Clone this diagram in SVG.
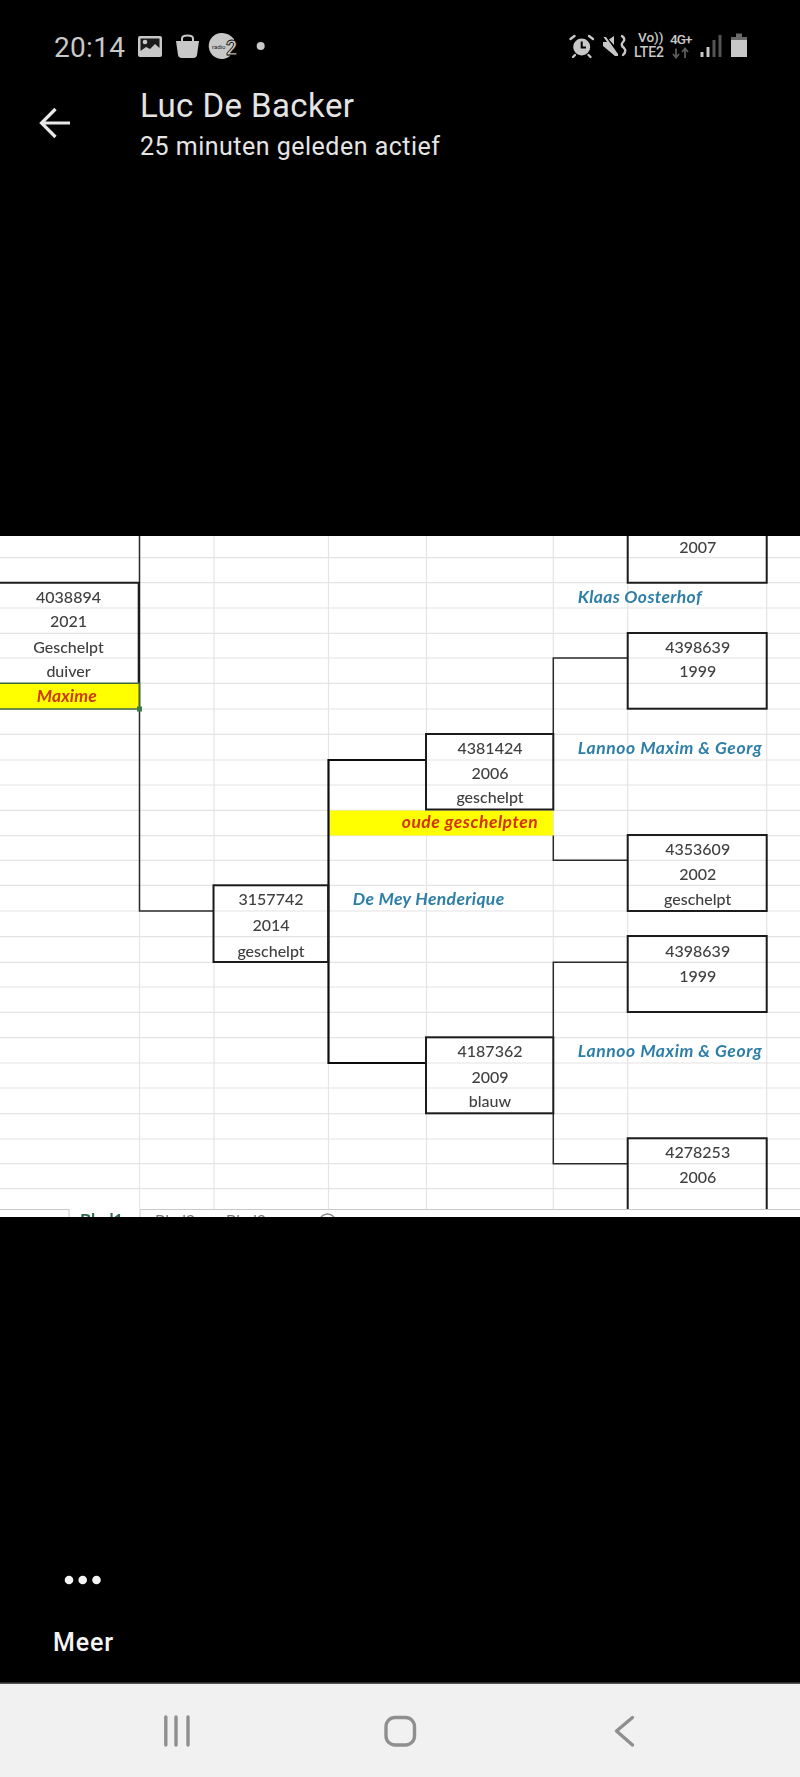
<svg xmlns="http://www.w3.org/2000/svg" width="800" height="1777" viewBox="0 0 800 1777">
<defs>
<style>
.st{font-family:"Roboto","Liberation Sans",sans-serif}
.c{font-family:"Lato","Noto Sans",sans-serif;font-size:16px;font-weight:500;fill:#404040;text-anchor:middle}
.n{font-family:"Lato","Noto Sans",sans-serif;font-size:17.5px;font-weight:700;font-style:italic;fill:#2f7fa8}
.r{font-family:"Lato","Noto Sans",sans-serif;font-size:17.5px;font-weight:700;font-style:italic;fill:#d4300c}
.tab{font-family:"Lato","Noto Sans",sans-serif;font-size:16px;fill:#777}
.box{fill:none;stroke:#1c1c1c;stroke-width:2}
.con{fill:none;stroke:#2a2a2a;stroke-width:1.5}
.con2{fill:none;stroke:#111;stroke-width:2.2}
.grid{stroke:#e4e4e4;stroke-width:1.2;fill:none}
.ic{fill:#c8c8c8}
.icl{fill:none;stroke:#c8c8c8;stroke-width:2.4;stroke-linecap:round;stroke-linejoin:round}
.nav{fill:none;stroke:#8f8f8f;stroke-width:3.4;stroke-linecap:round;stroke-linejoin:round}
</style>
<clipPath id="sheetclip"><rect x="0" y="536" width="800" height="681"/></clipPath>
<filter id="soft" x="0" y="0" width="100%" height="100%"><feGaussianBlur stdDeviation="0.35"/></filter>
</defs>
<rect x="0" y="0" width="800" height="1777" fill="#000"/>

<g id="statusbar">
<text class="st" x="54" y="56.7" font-size="28" fill="#c8c8c8" textLength="71">20:14</text>
<g id="icon-image"><rect class="ic" x="138" y="36" width="24" height="21" rx="2"/><path d="M140.500 38.500 H159.500 V48 L155 44 L150 49 L146 47 L140.500 51Z" fill="#1c1c1c"/><circle cx="145" cy="42" r="2.300" fill="#c8c8c8"/></g>
<g id="icon-bag"><path class="ic" d="M176 41 H199 L197 55 Q196.500 58 193 58 H182 Q178.500 58 178 55Z"/><path d="M182 41 V38.500 Q182 35.500 187.500 35.500 Q193 35.500 193 38.500 V41" fill="none" stroke="#c8c8c8" stroke-width="2"/></g>
<g id="icon-radio"><path class="ic" d="M222 33 A13 13 0 1 0 230 56 L233 48 L234 39 Q229 33 222 33Z"/><text x="212" y="48.500" font-family="Roboto,sans-serif" font-size="6" fill="#222">radio</text><text x="226" y="55" font-family="Roboto,sans-serif" font-size="20" font-weight="700" fill="#c8c8c8" stroke="#000" stroke-width=".8">2</text></g>
<circle id="icon-dot" class="ic" cx="260.700" cy="46" r="4"/>
<g id="icon-alarm"><circle cx="581.700" cy="47" r="8.500" fill="#c8c8c8"/><path d="M581.700 41.500 V47.500 H586" fill="none" stroke="#000" stroke-width="2"/><path class="icl" d="M570.500 39 L574.500 36 M593 39 L589 36 M575 55 L573 57 M588.500 55 L590.500 57"/></g>
<g id="icon-mute"><path class="ic" d="M603 42 H607 L603.500 37 H606 L618 54 V56 H615 L603 46Z"/><path class="ic" d="M609 39.500 L614 36 V45Z"/><path class="icl" d="M622 36 Q626 39 623 42 Q620 45 624 48 Q627 51 623 55"/></g>
<text class="st" x="638" y="41.700" font-size="13.500" font-weight="500" fill="#c8c8c8">Vo))</text>
<text class="st" x="634" y="56.700" font-size="14" font-weight="500" fill="#c8c8c8" textLength="30">LTE2</text>
<text class="st" x="670" y="44" font-size="13.500" font-weight="500" fill="#c8c8c8" textLength="22.500">4G+</text>
<g id="icon-data"><path d="M676 48.500 V57 M673 54 L676 57.500 L679 54" fill="none" stroke="#5c5c5c" stroke-width="1.800"/><path d="M685 58 V49 M682 52 L685 48.500 L688 52" fill="none" stroke="#5c5c5c" stroke-width="1.800"/></g>
<g id="icon-signal"><rect class="ic" x="700.500" y="52" width="3" height="5"/><rect class="ic" x="706.500" y="47" width="3" height="10"/><rect x="712.500" y="40" width="3" height="17" fill="#555"/><rect x="718.500" y="35" width="3" height="22" fill="#555"/></g>
<g id="icon-battery"><rect x="736" y="33.500" width="6" height="5" fill="#6a6a6a"/><rect x="731" y="37" width="16" height="4" fill="#6a6a6a"/><rect class="ic" x="731" y="40" width="16" height="17"/></g>
</g>

<g id="header">
<path id="back-arrow" d="M70 123 H43 M55.500 109 L41.500 123 L55.500 137" fill="none" stroke="#e8e8e8" stroke-width="3.200"/>
<text class="st" x="140" y="117.300" font-size="33" fill="#e4e4e4" textLength="214">Luc De Backer</text>
<text class="st" x="140" y="155" font-size="25" fill="#e4e4e4" textLength="300">25 minuten geleden actief</text>
</g>

<g id="sheet" clip-path="url(#sheetclip)">
<g filter="url(#soft)">
<rect x="0" y="536" width="800" height="681" fill="#fff"/>
<path id="gridlines" class="grid" d="M0 557.700H800M0 582.700H800M0 608H800M0 633.300H800M0 658H800M0 683.300H800M0 709H800M0 734.300H800M0 760H800M0 785H800M0 810.300H800M0 835.700H800M0 860.300H800M0 885.300H800M0 911H800M0 936.700H800M0 962.300H800M0 987H800M0 1012.300H800M0 1037.700H800M0 1063H800M0 1088H800M0 1113.700H800M0 1139H800M0 1163.700H800M0 1188.700H800M139.500 536V1209M214 536V1209M328.500 536V1209M426.500 536V1209M553.300 536V1209M627.700 536V1209M766.700 536V1209"/>

<g id="tabs">
<rect x="0" y="1209" width="800" height="8" fill="#fff"/>
<path d="M0 1209.500H69V1217M140 1217V1209.500H800" fill="none" stroke="#c8c8c8" stroke-width="1"/>
<text x="80" y="1226" font-family="Lato,sans-serif" font-size="17" font-weight="700" fill="#2d6b50">Blad1</text>
<text class="tab" x="155" y="1226">Blad2</text>
<text class="tab" x="226" y="1226">Blad3</text>
<circle cx="327.500" cy="1222" r="8" fill="none" stroke="#888" stroke-width="1.500"/>
</g>

<rect id="fill-maxime" x="0" y="683.500" width="139" height="25.500" fill="#ffff00"/>
<rect id="fill-oude" x="329" y="810.500" width="224" height="25" fill="#ffff00"/>

<g id="connectors">
<path class="con" d="M139.500 536V911H213.500"/>
<path class="con2" d="M426 760H328.500V1063H426"/>
<path class="con" d="M627.700 658H553.300V734.300"/>
<path class="con" d="M553.300 835.500V860.300H627.700"/>
<path class="con" d="M627.700 962.300H553.300V1037.500"/>
<path class="con" d="M553.300 1113.500V1163.700H627.700"/>
</g>

<g id="node-4038894">
<path class="box" d="M-2 582.700H138.700V683.300"/>
<text class="c" x="68.500" y="602.700">4038894</text>
<text class="c" x="68.500" y="627.300">2021</text>
<text class="c" x="68.500" y="652.700">Geschelpt</text>
<text class="c" x="68.500" y="677.300">duiver</text>
<path d="M-2 683.300H139.500V709H-2" fill="none" stroke="#3d6a40" stroke-width="1.600"/>
<rect x="137" y="706.500" width="5" height="5" fill="#3d7a4a"/>
<text class="r" x="36.700" y="702" textLength="60" style="fill:#cc3a08">Maxime</text>
</g>

<g id="node-2007">
<path class="box" d="M627.700 530V582.700H766.700V530"/>
<text class="c" x="697.700" y="552.700">2007</text>
</g>
<text id="label-klaas" class="n" x="577.700" y="602.700" textLength="124">Klaas Oosterhof</text>

<g id="node-4398639-a">
<rect class="box" x="627.700" y="633" width="139" height="75.700"/>
<text class="c" x="697.700" y="652.700">4398639</text>
<text class="c" x="697.700" y="677.300">1999</text>
</g>

<g id="node-4381424">
<rect class="box" x="426" y="734" width="127.300" height="75.500"/>
<text class="c" x="490" y="754">4381424</text>
<text class="c" x="490" y="779.300">2006</text>
<text class="c" x="490" y="803.300">geschelpt</text>
</g>
<text id="label-lannoo-a" class="n" x="577.700" y="754" textLength="184">Lannoo Maxim &amp; Georg</text>
<text id="label-oude" class="r" x="401.700" y="828.300" textLength="136">oude geschelpten</text>

<g id="node-4353609">
<rect class="box" x="627.700" y="835" width="139" height="76"/>
<text class="c" x="697.700" y="855">4353609</text>
<text class="c" x="697.700" y="880">2002</text>
<text class="c" x="697.700" y="905.300">geschelpt</text>
</g>

<g id="node-3157742">
<rect class="box" x="213.500" y="885.300" width="114.700" height="76.700"/>
<text class="c" x="271" y="905.300">3157742</text>
<text class="c" x="271" y="931">2014</text>
<text class="c" x="271" y="956.700">geschelpt</text>
</g>
<text id="label-demey" class="n" x="352.700" y="905" textLength="151.500">De Mey Henderique</text>

<g id="node-4398639-b">
<rect class="box" x="627.700" y="936" width="139" height="76"/>
<text class="c" x="697.700" y="956.700">4398639</text>
<text class="c" x="697.700" y="982">1999</text>
</g>

<g id="node-4187362">
<rect class="box" x="426" y="1037.300" width="127.300" height="76"/>
<text class="c" x="490" y="1057.300">4187362</text>
<text class="c" x="490" y="1082.700">2009</text>
<text class="c" x="490" y="1106.700">blauw</text>
</g>
<text id="label-lannoo-b" class="n" x="577.700" y="1057.300" textLength="184">Lannoo Maxim &amp; Georg</text>

<g id="node-4278253">
<path class="box" d="M627.700 1209V1138.300H766.700V1209"/>
<text class="c" x="697.700" y="1158.300">4278253</text>
<text class="c" x="697.700" y="1182.700">2006</text>
</g>
</g>
</g>

<g id="more">
<circle cx="69" cy="1580" r="4.300" fill="#f4f4f4"/><circle cx="82.700" cy="1580" r="4.300" fill="#f4f4f4"/><circle cx="96.500" cy="1580" r="4.300" fill="#f4f4f4"/>
<text class="st" x="53" y="1650.500" font-size="25" font-weight="500" fill="#f4f4f4" textLength="60">Meer</text>
</g>

<g id="navbar">
<rect x="0" y="1683" width="800" height="94" fill="#f1f1f1"/>
<rect x="0" y="1682.500" width="800" height="1.500" fill="#555"/>
<path class="nav" d="M165.800 1717V1745M176 1717V1745M188 1717V1745"/>
<rect class="nav" x="386" y="1717.500" width="28.500" height="27.500" rx="9" stroke-width="4"/>
<path class="nav" d="M632.500 1717.500L616.500 1731L632.500 1745"/>
</g>
</svg>
